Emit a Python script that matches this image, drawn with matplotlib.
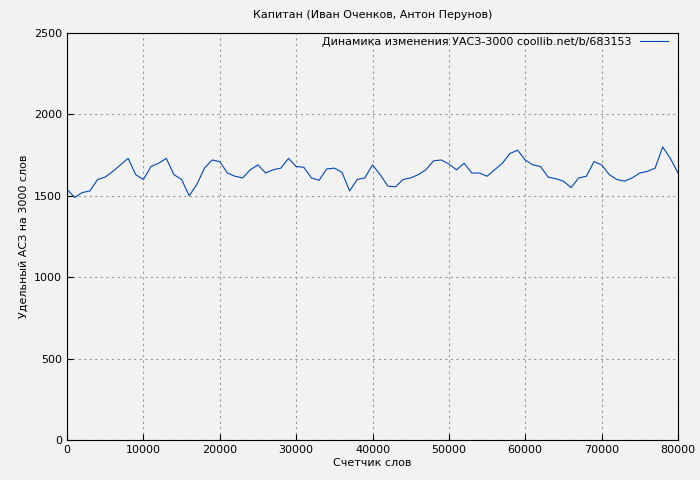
import matplotlib
matplotlib.use("Agg")
import matplotlib.pyplot as plt

words = list(range(0, 81000, 1000))
values = [1540,1490,1520,1530,1600,1615,1650,1690,1730,1630,1600,1680,1700,1730,1630,1600,1500,1570,1670,1720,
          1710,1640,1620,1610,1660,1690,1640,1660,1670,1730,1680,1675,1610,1595,1665,1670,1645,1530,1600,1610,
          1690,1630,1560,1555,1600,1610,1630,1660,1715,1720,1695,1660,1700,1640,1640,1620,1660,1700,1760,1780,
          1720,1690,1680,1615,1605,1590,1550,1610,1620,1710,1690,1630,1600,1590,1610,1640,1650,1670,1800,1730,1640]

fig = plt.figure(figsize=(7, 4.8), dpi=100, facecolor="#f2f2f2")
ax = fig.add_axes([67/700, 40/480, 611/700, 407/480])
ax.set_facecolor("#f2f2f2")
ax.plot(words, values, color="#0047bb", lw=0.8, label="Динамика изменения УАСЗ-3000 coollib.net/b/683153")
ax.set_xlim(0, 80000); ax.set_ylim(0, 2500)
ax.set_xticks(range(0, 80001, 10000)); ax.set_yticks(range(0, 2501, 500))
ax.grid(True, color="#999999", ls=(0, (2, 3)), lw=0.8)
ax.tick_params(labelsize=8, direction="in", length=4)
ax.set_title("Капитан (Иван Оченков, Антон Перунов)", fontsize=8, pad=11)
ax.set_xlabel("Счетчик слов", fontsize=8, labelpad=2)
ax.set_ylabel("Удельный АСЗ на 3000 слов", fontsize=8)
leg = ax.legend(loc="upper right", fontsize=8, frameon=False, markerfirst=False, handlelength=2.5,
                bbox_to_anchor=(1.0, 1.015))
fig.savefig("out.png", dpi=100, facecolor=fig.get_facecolor())
